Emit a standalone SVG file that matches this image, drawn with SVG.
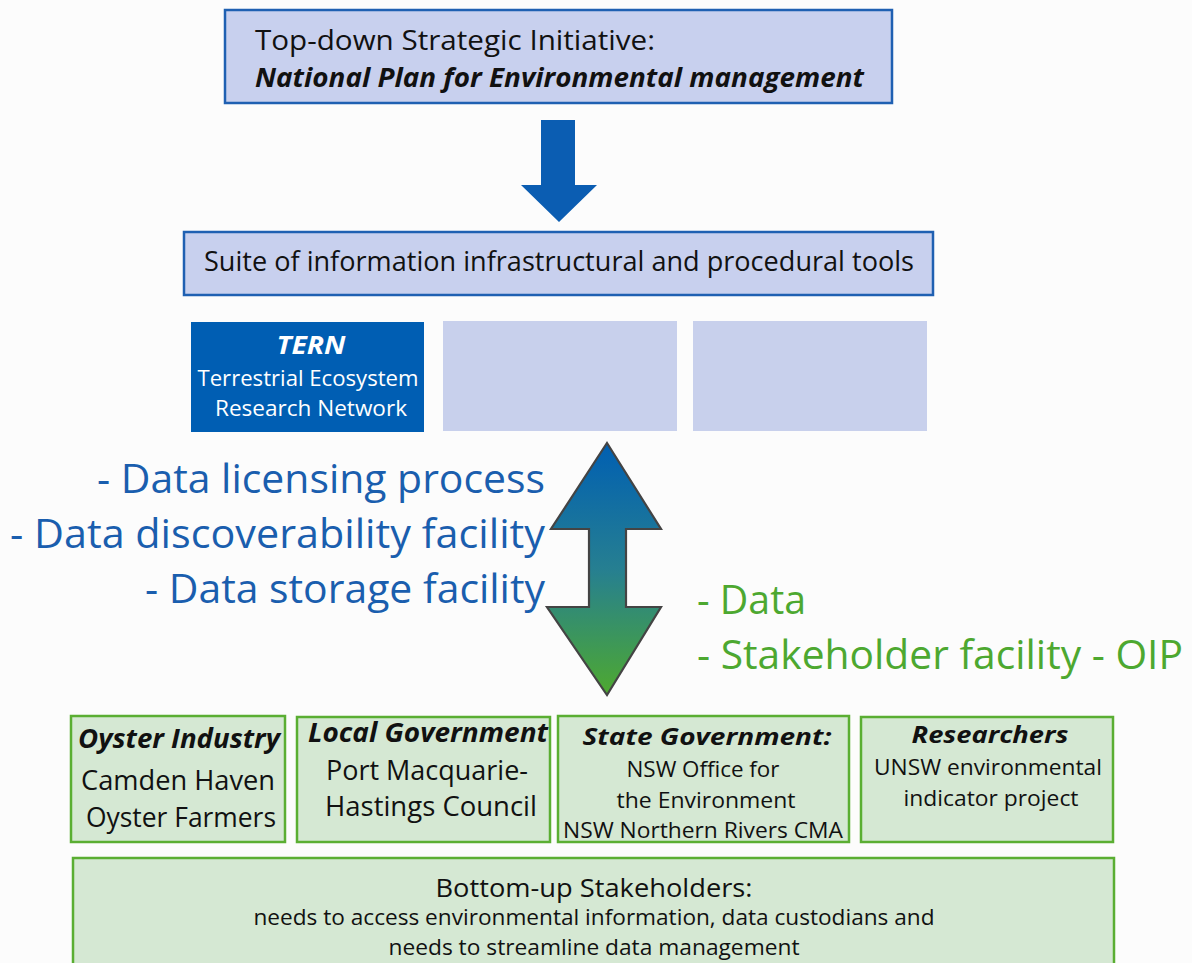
<svg xmlns="http://www.w3.org/2000/svg" width="1192" height="963" viewBox="0 0 1192 963">
<defs>
<linearGradient id="g" x1="0" y1="0" x2="0" y2="1">
<stop offset="0" stop-color="#005fb2"/>
<stop offset="0.5" stop-color="#267f91"/>
<stop offset="1" stop-color="#4ea92f"/>
</linearGradient>
<style>
text{font-family:"Open Sans","Noto Sans","Liberation Sans",sans-serif;fill:#111;}
.bi{font-weight:bold;font-style:italic;}
.top{fill:#c8d0ee;stroke:#1f60b2;stroke-width:2.5;}
.blank{fill:#c8d0ec;}
.stk{fill:#d5e8d3;stroke:#5aae32;stroke-width:2.5;}
.blue{fill:#1a5eae;font-size:40px;}
.green{fill:#4da830;font-size:40px;}
.w{fill:#fff;}
</style>
</defs>
<rect width="1192" height="963" fill="#fcfcfc"/>

<g id="node-top">
<rect class="top" x="225" y="10" width="667" height="93"/>
<text x="255" y="50" font-size="27" textLength="400" lengthAdjust="spacingAndGlyphs">Top-down Strategic Initiative:</text>
<text class="bi" x="255" y="87" font-size="27" textLength="609" lengthAdjust="spacingAndGlyphs">National Plan for Environmental management</text>
</g>

<g id="connectors">
<polygon points="541,120 575,120 575,185 597,185 559,222 521,185 541,185" fill="#0b5db2"/>
<polygon points="607,443 661,529 626,529 626,607 661,607 607,695 547,607 589,607 589,529 551,529" fill="url(#g)" stroke="#444" stroke-width="2.2" stroke-linejoin="miter"/>
</g>

<g id="node-suite">
<rect class="top" x="184" y="232" width="749" height="63"/>
<text x="559" y="271" font-size="27" text-anchor="middle" textLength="710" lengthAdjust="spacingAndGlyphs">Suite of information infrastructural and procedural tools</text>
</g>

<g id="node-tern">
<rect x="191" y="322" width="233" height="110" fill="#005eb3"/>
<text class="bi w" x="311" y="354" font-size="25" text-anchor="middle" textLength="69" lengthAdjust="spacingAndGlyphs">TERN</text>
<text class="w" x="308" y="386" font-size="22" text-anchor="middle" textLength="221" lengthAdjust="spacingAndGlyphs">Terrestrial Ecosystem</text>
<text class="w" x="311" y="416" font-size="22" text-anchor="middle" textLength="192" lengthAdjust="spacingAndGlyphs">Research Network</text>
</g>
<g id="node-blank1"><rect class="blank" x="443" y="321" width="234" height="110"/></g>
<g id="node-blank2"><rect class="blank" x="693" y="321" width="234" height="110"/></g>

<g id="label-blue">
<text class="blue" x="545" y="493" text-anchor="end" textLength="448" lengthAdjust="spacingAndGlyphs">- Data licensing process</text>
<text class="blue" x="545" y="548" text-anchor="end" textLength="535" lengthAdjust="spacingAndGlyphs">- Data discoverability facility</text>
<text class="blue" x="545" y="603" text-anchor="end" textLength="400" lengthAdjust="spacingAndGlyphs">- Data storage facility</text>
</g>
<g id="label-green">
<text class="green" x="697" y="614" textLength="109" lengthAdjust="spacingAndGlyphs">- Data</text>
<text class="green" x="697" y="669" textLength="486" lengthAdjust="spacingAndGlyphs">- Stakeholder facility - OIP</text>
</g>

<g id="node-oyster">
<rect class="stk" x="71" y="716" width="214" height="126"/>
<text class="bi" x="179" y="748" font-size="26" text-anchor="middle" textLength="202" lengthAdjust="spacingAndGlyphs">Oyster Industry</text>
<text x="178" y="790" font-size="27" text-anchor="middle" textLength="194" lengthAdjust="spacingAndGlyphs">Camden Haven</text>
<text x="181" y="827" font-size="27" text-anchor="middle" textLength="190" lengthAdjust="spacingAndGlyphs">Oyster Farmers</text>
</g>

<g id="node-local">
<rect class="stk" x="297" y="717" width="253" height="125"/>
<text class="bi" x="428" y="742" font-size="26" text-anchor="middle" textLength="240" lengthAdjust="spacingAndGlyphs">Local Government</text>
<text x="427" y="780" font-size="27" text-anchor="middle" textLength="202" lengthAdjust="spacingAndGlyphs">Port Macquarie-</text>
<text x="431" y="816" font-size="27" text-anchor="middle" textLength="212" lengthAdjust="spacingAndGlyphs">Hastings Council</text>
</g>

<g id="node-state">
<rect class="stk" x="558" y="716" width="291" height="126"/>
<text class="bi" x="707" y="745" font-size="24" text-anchor="middle" textLength="249" lengthAdjust="spacingAndGlyphs">State Government:</text>
<text x="703" y="777" font-size="22" text-anchor="middle" textLength="153" lengthAdjust="spacingAndGlyphs">NSW Office for</text>
<text x="706" y="808" font-size="22" text-anchor="middle" textLength="179" lengthAdjust="spacingAndGlyphs">the Environment</text>
<text x="703" y="838" font-size="22" text-anchor="middle" textLength="280" lengthAdjust="spacingAndGlyphs">NSW Northern Rivers CMA</text>
</g>

<g id="node-research">
<rect class="stk" x="861" y="717" width="252" height="125"/>
<text class="bi" x="990" y="743" font-size="24" text-anchor="middle" textLength="157" lengthAdjust="spacingAndGlyphs">Researchers</text>
<text x="988" y="775" font-size="22" text-anchor="middle" textLength="228" lengthAdjust="spacingAndGlyphs">UNSW environmental</text>
<text x="991" y="806" font-size="22" text-anchor="middle" textLength="175" lengthAdjust="spacingAndGlyphs">indicator project</text>
</g>

<g id="node-bottom">
<rect class="stk" x="73" y="858" width="1041" height="120"/>
<text x="594" y="897" font-size="25" text-anchor="middle" textLength="317" lengthAdjust="spacingAndGlyphs">Bottom-up Stakeholders:</text>
<text x="594" y="925" font-size="21" text-anchor="middle" textLength="681" lengthAdjust="spacingAndGlyphs">needs to access environmental information, data custodians and</text>
<text x="594" y="955" font-size="21" text-anchor="middle" textLength="411" lengthAdjust="spacingAndGlyphs">needs to streamline data management</text>
</g>
</svg>
